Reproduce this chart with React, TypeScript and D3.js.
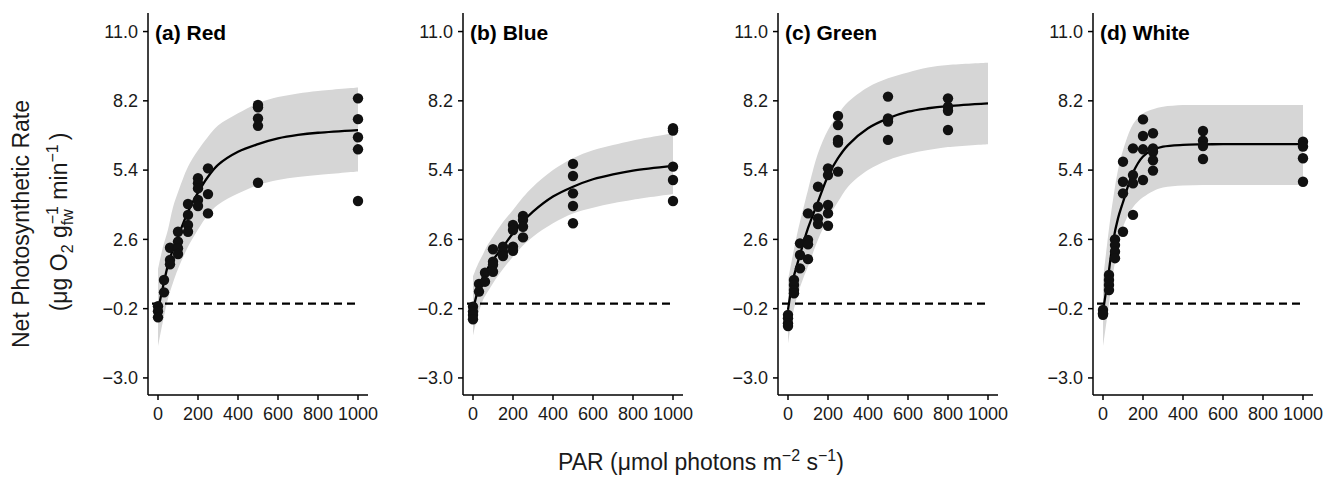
import * as d3 from 'd3';

// panel titles
const panelTitles = ['(a) Red', '(b) Blue', '(c) Green', '(d) White'];

// measured points (PAR, net photosynthetic rate)
const redPar = [0, 0, 0, 30, 30, 60, 60, 60, 100, 100, 100, 100, 150, 150, 150, 150, 200, 200, 200, 200, 200, 250, 250, 250, 500, 500, 500, 500, 500, 1000, 1000, 1000, 1000, 1000];
const redRate = [-0.1, -0.3, -0.55, 0.96, 0.46, 2.26, 1.77, 1.59, 2.91, 2.51, 2.24, 2.01, 4.03, 3.59, 3.18, 2.91, 5.07, 4.87, 4.66, 4.19, 3.95, 5.47, 4.43, 3.65, 8.03, 7.94, 7.49, 7.19, 4.89, 8.3, 7.46, 6.73, 6.24, 4.15];

const bluePar = [0, 0, 0, 0, 30, 30, 60, 60, 100, 100, 100, 100, 150, 150, 150, 200, 200, 200, 200, 250, 250, 250, 250, 500, 500, 500, 500, 500, 1000, 1000, 1000, 1000, 1000];
const blueRate = [-0.12, -0.32, -0.46, -0.63, 0.8, 0.49, 1.25, 0.89, 2.2, 1.7, 1.57, 1.29, 2.3, 2.1, 1.93, 3.18, 2.98, 2.3, 2.14, 3.55, 3.38, 3.11, 2.68, 5.65, 5.16, 4.46, 3.95, 3.25, 7.09, 7.0, 5.54, 5.0, 4.15];

const greenPar = [0, 0, 0, 0, 30, 30, 30, 30, 60, 60, 60, 100, 100, 100, 100, 150, 150, 150, 150, 200, 200, 200, 200, 200, 250, 250, 250, 250, 250, 500, 500, 500, 500, 800, 800, 800, 800];
const greenRate = [-0.45, -0.59, -0.79, -0.9, 0.96, 0.76, 0.55, 0.42, 1.97, 1.43, 2.44, 3.65, 2.58, 2.4, 1.8, 4.73, 3.92, 3.45, 3.22, 5.47, 5.2, 3.99, 3.65, 3.15, 7.59, 7.22, 6.62, 6.51, 5.34, 8.37, 7.49, 7.36, 6.62, 8.3, 7.96, 7.8, 7.02];

const whitePar = [0, 0, 0, 30, 30, 30, 30, 60, 60, 60, 60, 100, 100, 100, 100, 150, 150, 150, 150, 200, 200, 200, 200, 250, 250, 250, 250, 250, 500, 500, 500, 500, 1000, 1000, 1000, 1000];
const whiteRate = [-0.25, -0.39, -0.45, 1.16, 0.96, 0.76, 0.55, 2.6, 2.37, 2.1, 1.84, 5.74, 4.93, 4.46, 2.91, 6.28, 5.2, 4.87, 3.59, 7.45, 6.78, 6.24, 5.0, 6.89, 6.28, 6.14, 5.8, 5.38, 6.98, 6.59, 6.37, 5.85, 6.55, 6.35, 5.88, 4.93];

const fitPar = [0, 25, 50, 75, 100, 150, 200, 250, 300, 400, 500, 600, 700, 800, 1000];

const redFit = [-0.25, 0.69, 1.57, 2.2, 2.71, 3.72, 4.49, 5.13, 5.61, 6.14, 6.45, 6.68, 6.82, 6.91, 7.02];
const redUpper = [1.4, 2.3, 3.0, 3.9, 4.5, 5.54, 6.2, 6.75, 7.2, 7.7, 8.1, 8.35, 8.5, 8.6, 8.74];
const redLower = [-1.74, -0.7, 0.2, 0.85, 1.4, 2.3, 3.0, 3.6, 4.0, 4.45, 4.8, 5.0, 5.12, 5.2, 5.34];

const blueFit = [-0.25, 0.55, 1.09, 1.45, 1.77, 2.3, 2.85, 3.32, 3.72, 4.33, 4.73, 5.03, 5.23, 5.38, 5.57];
const blueUpper = [1.1, 1.6, 2.0, 2.4, 2.71, 3.3, 3.79, 4.3, 4.73, 5.4, 5.88, 6.2, 6.41, 6.6, 6.89];
const blueLower = [-1.3, -0.45, 0.15, 0.5, 0.83, 1.4, 1.9, 2.35, 2.71, 3.25, 3.65, 3.88, 4.06, 4.2, 4.43];

const greenFit = [-0.25, 0.96, 1.7, 2.4, 3.05, 4.12, 5.16, 5.88, 6.41, 7.09, 7.49, 7.76, 7.9, 7.99, 8.1];
const greenUpper = [0.95, 2.0, 2.98, 3.8, 4.6, 6.08, 7.02, 7.65, 8.15, 8.75, 9.11, 9.35, 9.55, 9.65, 9.74];
const greenLower = [-1.63, -0.4, 0.42, 1.0, 1.5, 2.58, 3.45, 4.12, 4.73, 5.4, 5.8, 6.05, 6.21, 6.33, 6.45];

const whiteFit = [-0.32, 1.05, 2.5, 3.45, 4.1, 5.3, 5.95, 6.22, 6.35, 6.42, 6.44, 6.45, 6.45, 6.45, 6.45];
const whiteUpper = [0.95, 2.71, 4.2, 5.4, 6.2, 7.25, 7.69, 7.86, 7.96, 8.03, 8.03, 8.03, 8.03, 8.03, 8.03];
const whiteLower = [-1.74, -0.3, 1.2, 2.3, 3.1, 3.9, 4.3, 4.55, 4.7, 4.78, 4.8, 4.8, 4.8, 4.8, 4.8];

const yTicks = [-3.0, -0.2, 2.6, 5.4, 8.2, 11.0];
const xTicks = [0, 200, 400, 600, 800, 1000];

const panels = [
  { par: redPar, rate: redRate, fit: redFit, upper: redUpper, lower: redLower },
  { par: bluePar, rate: blueRate, fit: blueFit, upper: blueUpper, lower: blueLower },
  { par: greenPar, rate: greenRate, fit: greenFit, upper: greenUpper, lower: greenLower },
  { par: whitePar, rate: whiteRate, fit: whiteFit, upper: whiteUpper, lower: whiteLower },
];

const W = 1336, H = 480;
const FONT = '"Liberation Sans", Arial, Helvetica, sans-serif';
const panelW = 220, firstLeft = 148, step = 315;
const top = 13, bottom = 395;

const y = d3.scaleLinear().domain([-3.69, 11.75]).range([bottom, top]);
const fmt = d3.format('.1f');

function Panel({ i }: { i: number }) {
  const p = panels[i];
  const left = firstLeft + i * step;
  const x = d3.scaleLinear().domain([-50, 1050]).range([left, left + panelW]);

  const idx = d3.range(fitPar.length);
  const line = d3.line<number>()
    .x(k => x(fitPar[k]))
    .y(k => y(p.fit[k]))
    .curve(d3.curveCatmullRom.alpha(0.5));
  const band = d3.area<number>()
    .x(k => x(fitPar[k]))
    .y0(k => y(p.lower[k]))
    .y1(k => y(p.upper[k]))
    .curve(d3.curveCatmullRom.alpha(0.5));

  return (
    <g>
      <path d={band(idx) ?? ''} fill="#d6d6d6" />
      <line x1={left + 4} x2={left + panelW - 8} y1={y(0)} y2={y(0)}
        stroke="#000" strokeWidth={2.3} strokeDasharray="8,5" />
      <path d={line(idx) ?? ''} fill="none" stroke="#000" strokeWidth={2.3} />
      {p.par.map((v, k) => (
        <circle key={k} cx={x(v)} cy={y(p.rate[k])} r={5.2} fill="#111" />
      ))}

      {/* axes */}
      <line x1={left} x2={left} y1={top} y2={bottom} stroke="#000" strokeWidth={1.5} />
      <line x1={left} x2={left + panelW} y1={bottom} y2={bottom} stroke="#000" strokeWidth={1.5} />
      {yTicks.map(t => (
        <g key={t}>
          <line x1={left - 5} x2={left} y1={y(t)} y2={y(t)} stroke="#000" strokeWidth={1.5} />
          <text x={left - 10} y={y(t)} dy="0.35em" textAnchor="end" fontSize={18} fill="#1a1a1a">{fmt(t)}</text>
        </g>
      ))}
      {xTicks.map(t => (
        <g key={t}>
          <line x1={x(t)} x2={x(t)} y1={bottom} y2={bottom + 5} stroke="#000" strokeWidth={1.5} />
          <text x={x(t)} y={420} textAnchor="middle" fontSize={18} fill="#1a1a1a">{t}</text>
        </g>
      ))}
      <text x={left + 7} y={40} fontSize={21} fontWeight="bold" fill="#000">{panelTitles[i]}</text>
    </g>
  );
}

export default function App() {
  return (
    <svg width={W} height={H} style={{ position: 'absolute', left: 0, top: 0, background: '#fff' }}
      fontFamily={FONT}>
      {panels.map((_, i) => <Panel key={i} i={i} />)}

      <text transform="translate(29,224) rotate(-90)" textAnchor="middle" fontSize={23} fill="#1a1a1a">
        Net Photosynthetic Rate
      </text>
      <text transform="translate(67,222) rotate(-90)" textAnchor="middle" fontSize={23} fill="#1a1a1a">
        (μg O<tspan fontSize={16} dy={6}>2</tspan>
        <tspan dy={-6}> g</tspan>
        <tspan fontSize={16} dy={6}>fw</tspan>
        <tspan fontSize={16} dx={-15} dy={-15}>−1</tspan>
        <tspan dy={9}> min</tspan>
        <tspan fontSize={16} dy={-9}>−1</tspan>
        <tspan dy={9} dx={4}>)</tspan>
      </text>

      <text x={701} y={470} textAnchor="middle" fontSize={23} fill="#1a1a1a">
        PAR (μmol photons m<tspan fontSize={16} dy={-9}>−2</tspan>
        <tspan dy={9}> s</tspan>
        <tspan fontSize={16} dy={-9}>−1</tspan>
        <tspan dy={9}>)</tspan>
      </text>
    </svg>
  );
}
